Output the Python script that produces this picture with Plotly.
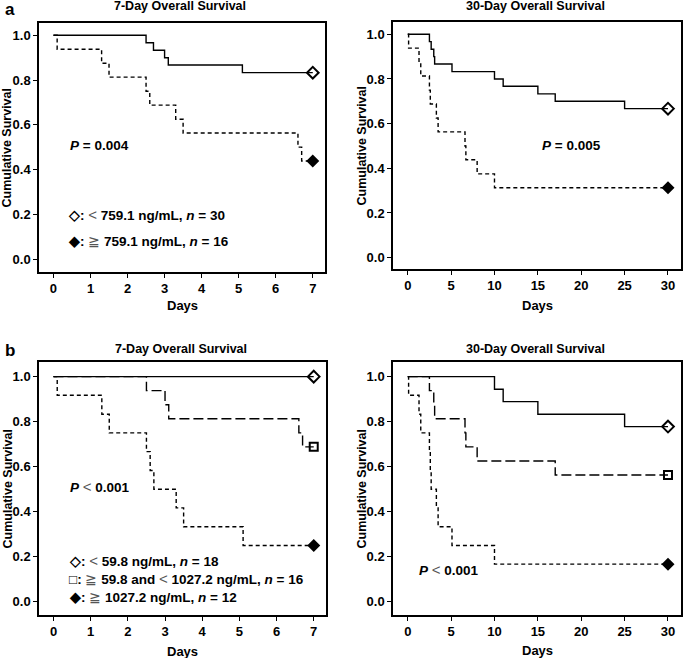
import plotly.graph_objects as go

# ---- data ----
# panel a: 7-day
a7_low_days = [0, 2.5, 2.7, 3.0, 3.1, 5.1, 7]
a7_low_surv = [1.0, 0.967, 0.933, 0.900, 0.867, 0.833, 0.833]
a7_high_days = [0, 0.1, 1.3, 1.5, 2.5, 2.6, 3.3, 3.5, 6.6, 6.7, 7]
a7_high_surv = [1.0, 0.938, 0.875, 0.813, 0.750, 0.688, 0.625, 0.563, 0.500, 0.438, 0.438]

# panel a: 30-day
a30_low_days = [0, 2.5, 2.7, 3.0, 3.1, 5.1, 10, 11, 15, 17, 25, 30]
a30_low_surv = [1.0, 0.967, 0.933, 0.900, 0.867, 0.833, 0.800, 0.767, 0.733, 0.700, 0.667, 0.667]
a30_high_days = [0, 0.1, 1.3, 1.5, 2.5, 2.6, 3.3, 3.5, 6.6, 6.7, 8, 10, 30]
a30_high_surv = [1.0, 0.938, 0.875, 0.813, 0.750, 0.688, 0.625, 0.563, 0.500, 0.438, 0.375, 0.313, 0.313]

# panel b: 7-day
b7_low_days = [0, 7]
b7_low_surv = [1.0, 1.0]
b7_mid_days = [0, 2.5, 3.0, 3.1, 6.6, 6.7, 7]
b7_mid_surv = [1.0, 0.938, 0.875, 0.813, 0.750, 0.688, 0.688]
b7_high_days = [0, 0.1, 1.3, 1.5, 2.5, 2.6, 2.7, 3.3, 3.5, 5.1, 7]
b7_high_surv = [1.0, 0.917, 0.833, 0.750, 0.667, 0.583, 0.500, 0.417, 0.333, 0.250, 0.250]

# panel b: 30-day
b30_low_days = [0, 10, 11, 15, 25, 30]
b30_low_surv = [1.0, 0.944, 0.889, 0.833, 0.778, 0.778]
b30_mid_days = [0, 2.5, 3.0, 3.1, 6.6, 6.7, 8, 17, 30]
b30_mid_surv = [1.0, 0.938, 0.875, 0.813, 0.750, 0.688, 0.625, 0.563, 0.563]
b30_high_days = [0, 0.1, 1.3, 1.5, 2.5, 2.6, 2.7, 3.3, 3.5, 5.1, 10, 30]
b30_high_surv = [1.0, 0.917, 0.833, 0.750, 0.667, 0.583, 0.500, 0.417, 0.333, 0.250, 0.167, 0.167]

y_ticks = [0.0, 0.2, 0.4, 0.6, 0.8, 1.0]
x_ticks_7 = [0, 1, 2, 3, 4, 5, 6, 7]
x_ticks_30 = [0, 5, 10, 15, 20, 25, 30]

W, H = 685, 658
FONT = "Liberation Sans, Arial, sans-serif"

# pixel boxes of the four panels: (left, right, top, bottom)
boxes = [(39, 325, 23, 272), (393, 681, 22, 269), (39, 326, 362, 615), (393, 681, 362, 615)]
x_ranges = [[-0.39, 7.33], [-1.7, 31.5], [-0.39, 7.33], [-1.7, 31.5]]
y_ranges = [[-0.058, 1.055], [-0.051, 1.055], [-0.059, 1.065], [-0.059, 1.065]]

SOLID = dict(color="black", width=1.4)
SHORT = dict(color="black", width=1.4, dash="4px,3px")
LONG = dict(color="black", width=1.4, dash="10px,4px")

OPEN_DIAMOND = dict(symbol="diamond-open", size=9, color="black", line=dict(width=2))
FILL_DIAMOND = dict(symbol="diamond", size=10, color="black")
OPEN_SQUARE = dict(symbol="square-open", size=8, color="black", line=dict(width=2))

panels = [
    [(a7_low_days, a7_low_surv, SOLID, OPEN_DIAMOND),
     (a7_high_days, a7_high_surv, SHORT, FILL_DIAMOND)],
    [(a30_low_days, a30_low_surv, SOLID, OPEN_DIAMOND),
     (a30_high_days, a30_high_surv, SHORT, FILL_DIAMOND)],
    [(b7_low_days, b7_low_surv, SOLID, OPEN_DIAMOND),
     (b7_mid_days, b7_mid_surv, LONG, OPEN_SQUARE),
     (b7_high_days, b7_high_surv, SHORT, FILL_DIAMOND)],
    [(b30_low_days, b30_low_surv, SOLID, OPEN_DIAMOND),
     (b30_mid_days, b30_mid_surv, LONG, OPEN_SQUARE),
     (b30_high_days, b30_high_surv, SHORT, FILL_DIAMOND)],
]

fig = go.Figure()
layout = {}
for i, curves in enumerate(panels):
    n = i + 1
    xa = "x" if n == 1 else f"x{n}"
    ya = "y" if n == 1 else f"y{n}"
    for days, surv, line, marker in curves:
        fig.add_trace(go.Scatter(x=days, y=surv, mode="lines", line=line,
                                 line_shape="hv", xaxis=xa, yaxis=ya,
                                 showlegend=False, hoverinfo="skip"))
        fig.add_trace(go.Scatter(x=days[-1:], y=surv[-1:], mode="markers",
                                 marker=marker, xaxis=xa, yaxis=ya,
                                 showlegend=False, cliponaxis=False))
    l, r, t, b = boxes[i]
    common = dict(showline=True, mirror=True, linecolor="black", linewidth=1.5,
                  ticks="outside", ticklen=4, tickwidth=1.2, tickcolor="black",
                  showgrid=False, zeroline=False,
                  tickfont=dict(family=FONT, size=13, color="black", weight="bold"))
    layout["xaxis" if n == 1 else f"xaxis{n}"] = dict(
        common, domain=[l / W, r / W], range=x_ranges[i], anchor=ya,
        tickvals=x_ticks_7 if i % 2 == 0 else x_ticks_30)
    layout["yaxis" if n == 1 else f"yaxis{n}"] = dict(
        common, domain=[1 - b / H, 1 - t / H], range=y_ranges[i], anchor=xa,
        tickvals=y_ticks, tickformat=".1f")

fig.update_layout(**layout)

ann = []
bold = dict(family=FONT, size=12.5, color="black", weight="bold")

# panel letters
ann.append(dict(text="a", x=3 / W, y=1 - 9 / H, font=dict(family=FONT, size=17, color="black", weight="bold")))
ann.append(dict(text="b", x=3 / W, y=1 - 350 / H, font=dict(family=FONT, size=17, color="black", weight="bold")))

# titles, axis titles
titles = ["7-Day Overall Survival", "30-Day Overall Survival",
          "7-Day Overall Survival", "30-Day Overall Survival"]
title_y = [6, 6, 349, 349]
days_y = [306, 305, 651, 650]
ytitle_x = [7, 361, 7, 361]
for i, (l, r, t, b) in enumerate(boxes):
    cx = (l + r) / 2 / W
    ann.append(dict(text=titles[i], x=cx - 2 / W, y=1 - title_y[i] / H, xanchor="center", font=bold))
    ann.append(dict(text="Days", x=cx, y=1 - days_y[i] / H, xanchor="center", font=dict(bold, size=13)))
    ann.append(dict(text="Cumulative Survival", x=ytitle_x[i] / W, y=1 - (t + b) / 2 / H,
                    xanchor="center", textangle=-90, font=dict(bold, size=12.5)))
for a in ann:
    a.update(xref="paper", yref="paper", showarrow=False)
    a.setdefault("xanchor", "left")
    a.setdefault("yanchor", "middle")

# P values and group labels (data coordinates)
txt = dict(family=FONT, size=13.5, color="black", weight="bold")
lt = '<span style="font-weight:normal;fill:#555;font-size:15px">&lt;</span>'
ge = '<span style="font-weight:normal;fill:#555;font-size:14px">≧</span>'
inner = [
    ("x", "y", 0.4, 0.507, "<i>P</i> = 0.004"),
    ("x2", "y2", 15.2, 0.504, "<i>P</i> = 0.005"),
    ("x3", "y3", 0.4, 0.511, f"<i>P</i> {lt} 0.001"),
    ("x4", "y4", 1.07, 0.144, f"<i>P</i> {lt} 0.001"),
    ("x", "y", 0.35, 0.2, f"◇: {lt} 759.1 ng/mL, <i>n</i> = 30"),
    ("x", "y", 0.35, 0.082, f"◆: {ge} 759.1 ng/mL, <i>n</i> = 16"),
    ("x3", "y3", 0.35, 0.185, f"◇: {lt} 59.8 ng/mL, <i>n</i> = 18"),
    ("x3", "y3", 0.35, 0.104, f"□: {ge} 59.8 and {lt} 1027.2 ng/mL, <i>n</i> = 16"),
    ("x3", "y3", 0.35, 0.022, f"◆: {ge} 1027.2 ng/mL, <i>n</i> = 12"),
]
for xr, yr, x, y, t in inner:
    ann.append(dict(text=t, xref=xr, yref=yr, x=x, y=y, showarrow=False,
                    xanchor="left", yanchor="middle", font=txt))

fig.update_layout(
    annotations=ann,
    width=W, height=H,
    margin=dict(l=0, r=0, t=0, b=0),
    paper_bgcolor="white", plot_bgcolor="white",
    showlegend=False,
)
fig.write_html("out.html", config={"displayModeBar": False},
               post_script="document.body.style.margin='0';document.body.style.overflow='hidden';")
